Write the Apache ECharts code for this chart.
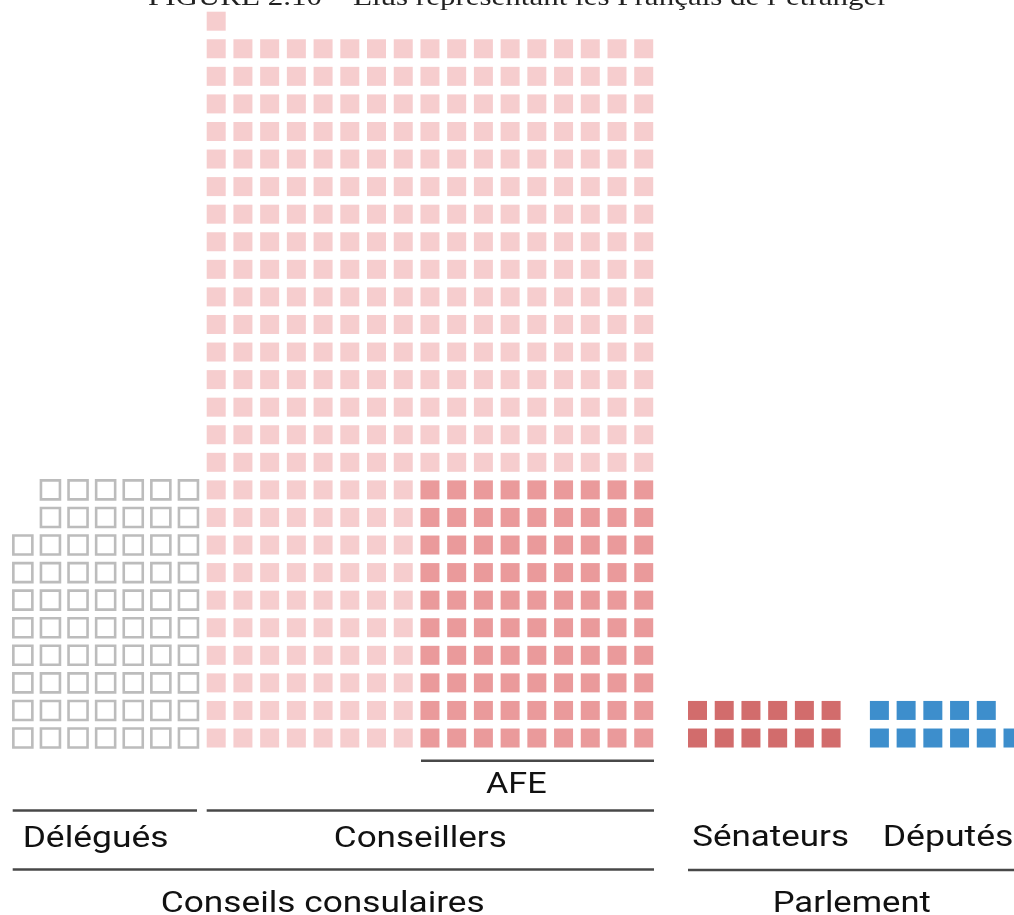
<!DOCTYPE html>
<html><head><meta charset="utf-8">
<script src="https://cdn.jsdelivr.net/npm/echarts@6/dist/echarts.min.js"></script>
<style>html,body{margin:0;padding:0;background:#fff}#c{width:1014px;height:915px}</style>
</head><body><div id="c"></div>
<script>
// ---------- DATA ----------
const titleText = 'FIGURE 2.10 – Élus représentant les Français de l’étranger';
const groupLabels = ['Délégués', 'Conseillers', 'AFE', 'Sénateurs', 'Députés'];
const familyLabels = ['Conseils consulaires', 'Parlement'];
const delegues = 68;      // délégués consulaires
const conseillers = 443;  // conseillers consulaires (incl. AFE)
const afe = 90;           // conseillers siégeant à l'AFE
const senateurs = 12;
const deputes = 11;

// ---------- LAYOUT ----------
const W = 1014;
const ROW = 27.57, BASE = 751.8, SQ = 19;
function cells(count, cols, rows, order) {
  const out = [];
  for (let i = 0; i < count; i++) {
    let c, r;
    if (order === 'colRight') { c = cols - 1 - Math.floor(i / rows); r = i % rows; }
    else { c = i % cols; r = Math.floor(i / cols); }
    out.push([c, r]);
  }
  return out;
}
const groups = [
  {cols: 7, rows: 10, pitch: 27.6, cx0: 22.85},
  {cols: 17, rows: 27, pitch: 26.72, cx0: 216.2},
  {cols: 6, rows: 2, pitch: 26.72, cx0: 697.5},
  {cols: 6, rows: 2, pitch: 26.72, cx0: 879.4}
];
const grid = [], xAxis = [], yAxis = [];
groups.forEach((g, i) => {
  const left = g.cx0 - g.pitch / 2;
  const width = Math.min(g.cols * g.pitch, W - left);
  grid.push({left, width, top: BASE - g.rows * ROW, height: g.rows * ROW});
  xAxis.push({gridIndex: i, type: 'value', min: 0, max: width / g.pitch, show: false});
  yAxis.push({gridIndex: i, type: 'value', min: 0, max: g.rows, show: false});
});
const toPt = a => [a[0] + 0.5, a[1] + 0.5];
const delCells = cells(delegues, 7, 10, 'colRight').map(toPt);
const afeCols = 9, afeRows = afe / afeCols;
const consAll = cells(conseillers, 17, 27, 'row');
const isAfe = a => a[1] < afeRows && a[0] >= 17 - afeCols;
const consCells = consAll.filter(a => !isAfe(a)).map(toPt);
const afeCells = consAll.filter(isAfe).map(toPt);
const senCells = cells(senateurs, 6, 2, 'row').map(toPt);
const depCells = cells(deputes, 6, 2, 'row').map(toPt);

function sq(data, gi, style) {
  return {type: 'scatter', xAxisIndex: gi, yAxisIndex: gi, data, symbol: 'rect', symbolSize: SQ,
    itemStyle: Object.assign({opacity: 1}, style), silent: true, animation: false, clip: false};
}

// ---------- TEXT helpers ----------
const mctx = document.createElement('canvas').getContext('2d');
function fitText(text, font, size, inkLeft, inkRight, baseline, color) {
  mctx.font = size + 'px ' + font;
  mctx.textAlign = 'left';
  mctx.textBaseline = 'alphabetic';
  const m = mctx.measureText(text);
  const hA = mctx.measureText('H').actualBoundingBoxAscent;
  mctx.textBaseline = 'middle';
  const hM = mctx.measureText('H').actualBoundingBoxAscent;
  const inkW = m.actualBoundingBoxLeft + m.actualBoundingBoxRight;
  const s = (inkRight - inkLeft) / inkW;
  return {type: 'text', x: inkLeft + s * m.actualBoundingBoxLeft, y: baseline - (hA - hM), scaleX: s,
    silent: true, z: 10,
    style: {text, x: 0, y: 0, fill: color || '#111', font: size + 'px ' + font, textAlign: 'left', textVerticalAlign: 'middle', align: 'left', verticalAlign: 'middle'}};
}
function hline(x1, x2, y) {
  return {type: 'line', silent: true, shape: {x1, y1: y, x2, y2: y}, style: {stroke: '#484848', lineWidth: 2.5}};
}
const F = 'Roboto, sans-serif';
const graphic = [
  fitText(titleText, '"Liberation Serif", serif', 26, 148, 888, 5, '#222'),
  hline(421, 654, 760.7),
  hline(12.7, 197, 810.5),
  hline(206.7, 654, 810.5),
  hline(12.7, 654, 869.5),
  hline(688, 1020, 870),
  fitText(groupLabels[2], F, 30, 486, 546.7, 792.7),
  fitText(groupLabels[0], F, 30, 25, 166.7, 846.7),
  fitText(groupLabels[1], F, 30, 335, 505, 846.7),
  fitText(groupLabels[3], F, 30, 693.3, 847.3, 845.5),
  fitText(groupLabels[4], F, 30, 885, 1011.7, 846),
  fitText(familyLabels[0], F, 30, 162, 483, 911.7),
  fitText(familyLabels[1], F, 30, 775, 930, 911.7)
];

const chart = echarts.init(document.getElementById('c'), null, {renderer: 'canvas'});
chart.setOption({
  animation: false,
  backgroundColor: '#fff',
  grid, xAxis, yAxis,
  series: [
    sq(delCells, 0, {color: '#ffffff', borderColor: '#bcbcbc', borderWidth: 2.6}),
    sq(consCells, 1, {color: '#f6cdce'}),
    sq(afeCells, 1, {color: '#ea9a9b'}),
    sq(senCells, 2, {color: '#d26c6c'}),
    sq(depCells, 3, {color: '#3d8ecc'})
  ],
  graphic
});
</script></body></html>
